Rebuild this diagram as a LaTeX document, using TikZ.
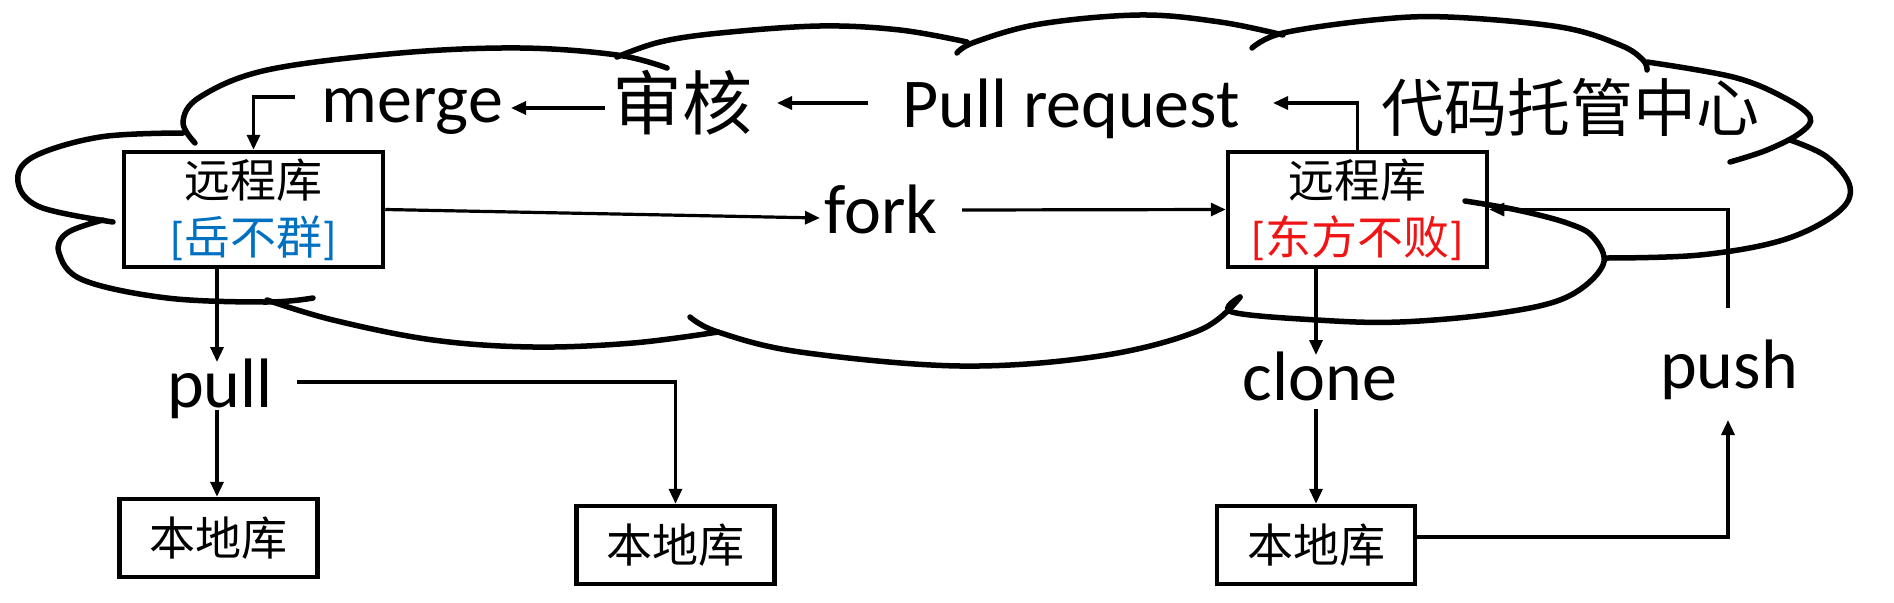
\documentclass[tikz,border=0pt]{standalone}
\usepackage{fontspec}
\setmainfont{Carlito}
\newfontfamily\cjk{Noto Sans CJK SC}
\usetikzlibrary{arrows.meta}
\definecolor{yueblue}{RGB}{0,112,192}
\definecolor{dfred}{RGB}{240,20,20}
\begin{document}
\begin{tikzpicture}[x=1pt,y=-1pt,
  cloudline/.style={line width=5.5pt, line cap=round, black},
  arr/.style={line width=3.2pt, -{Triangle[length=15pt,width=13pt]}},
  remote/.style={draw, line width=4.5pt, fill=white, minimum width=259pt, minimum height=115pt, inner sep=0pt, align=center, font=\fontsize{46}{57}\selectfont},
  localbox/.style={draw, line width=4.5pt, fill=white, minimum width=198pt, minimum height=78pt, inner sep=0pt, font=\cjk\fontsize{46}{55}\selectfont},
  lbl/.style={anchor=base, inner sep=0pt, font=\fontsize{70}{84}\selectfont},
  cjkbig/.style={inner sep=0pt, font=\cjk\fontsize{70}{84}\selectfont},
  cjkmid/.style={inner sep=0pt, font=\cjk\fontsize{63}{76}\selectfont}
]
\useasboundingbox (0,0) rectangle (1894,602);

% boxes
\node[remote] (L) at (253.5,209.5) {{\cjk 远程库}\\\textcolor{yueblue}{[{\cjk 岳不群}]}};
\node[remote] (R) at (1357.5,209.5) {{\cjk 远程库}\\\textcolor{dfred}{[{\cjk 东方不败}]}};
\node[localbox] (M1) at (218.5,538) {本地库};
\node[localbox] (M2) at (675.5,545) {本地库};
\node[localbox] (M3) at (1316,545) {本地库};

% cloud
\draw[cloudline] plot[smooth, tension=0.6] coordinates {(195,143) (183,122) (200,97) (267,70) (400,53) (520,48) (617,55) (667,68)};
\draw[cloudline] plot[smooth, tension=0.6] coordinates {(617,57) (660,42) (720,33) (820,26) (900,30) (967,42)};
\draw[cloudline] plot[smooth, tension=0.6] coordinates {(957,53) (975,42) (1040,24) (1140,15) (1220,22) (1283,35)};
\draw[cloudline] plot[smooth, tension=0.6] coordinates {(1252,48) (1283,33) (1373,20) (1448,17) (1560,27) (1620,45) (1643,60) (1647,70)};
\draw[cloudline] plot[smooth, tension=0.6] coordinates {(1647,62) (1733,77) (1783,97) (1810,117) (1800,133) (1767,150) (1730,162)};
\draw[cloudline] plot[smooth, tension=0.6] coordinates {(1790,140) (1827,157) (1850,187) (1837,213) (1783,240) (1700,255) (1607,258)};
\draw[cloudline] plot[smooth, tension=0.6] coordinates {(1240,297) (1232,312) (1317,320) (1400,322) (1500,313) (1567,297) (1603,265) (1593,237) (1567,223) (1517,210) (1465,201)};
\draw[cloudline] plot[smooth, tension=0.6] coordinates {(690,317) (718,332) (800,352) (960,366) (1100,356) (1200,330) (1240,297)};
\draw[cloudline] plot[smooth, tension=0.6] coordinates {(267,300) (333,320) (433,340) (533,347) (633,343) (718,332)};
\draw[cloudline] plot[smooth, tension=0.6] coordinates {(103,220) (67,233) (59,253) (83,280) (167,298) (267,302) (313,298)};
\draw[cloudline] plot[smooth, tension=0.6] coordinates {(183,133) (100,137) (33,157) (18,182) (40,207) (113,222)};

% labels
\node[lbl] (merge) at (412,122) {merge};
\node[lbl] (pr) at (1071,127) {Pull request};
\node[lbl] (fork) at (881,233) {fork};
\node[lbl] (pull) at (220,407) {pull};
\node[lbl] (clone) at (1320,400) {clone};
\node[lbl] (push) at (1729,388) {push};
\node[cjkbig] (shenhe) at (682,103) {审核};
\node[cjkmid] (center) at (1570,107) {代码托管中心};

% connectors
\coordinate (mg0) at (295,97);
\draw[arr] (mg0) -| (L.north);
\coordinate (sh0) at (605,108);
\coordinate (mg1) at (511,108);
\draw[arr] (sh0) -- (mg1);
\coordinate (pr0) at (868,103);
\coordinate (sh1) at (777,103);
\draw[arr] (pr0) -- (sh1);
\coordinate (pr1) at (1273,103);
\draw[arr] (R.north) |- (pr1);
\coordinate (fk1) at (820,218);
\draw[arr] (L.east) -- (fk1);
\coordinate (fk0) at (962,210);
\draw[arr] (fk0) -- (R.west);
\coordinate (pl1) at (217,362);
\draw[arr] (L.south -| pl1) -- (pl1);
\coordinate (pl0) at (217,410);
\draw[arr] (pl0) -- (pl0 |- M1.north);
\coordinate (pl2) at (297,382);
\draw[arr] (pl2) -| (M2.north);
\coordinate (cl1) at (1316,355);
\draw[arr] (R.south -| cl1) -- (cl1);
\coordinate (cl0) at (1316,409);
\draw[arr] (cl0) -- (M3.north);
\coordinate (m3r) at (1415,537);
\coordinate (ps1) at (1728,420);
\draw[arr] (m3r) -| (ps1);
\coordinate (ps0) at (1728,308);
\draw[arr] (ps0) |- (R.east);
\end{tikzpicture}
\end{document}
